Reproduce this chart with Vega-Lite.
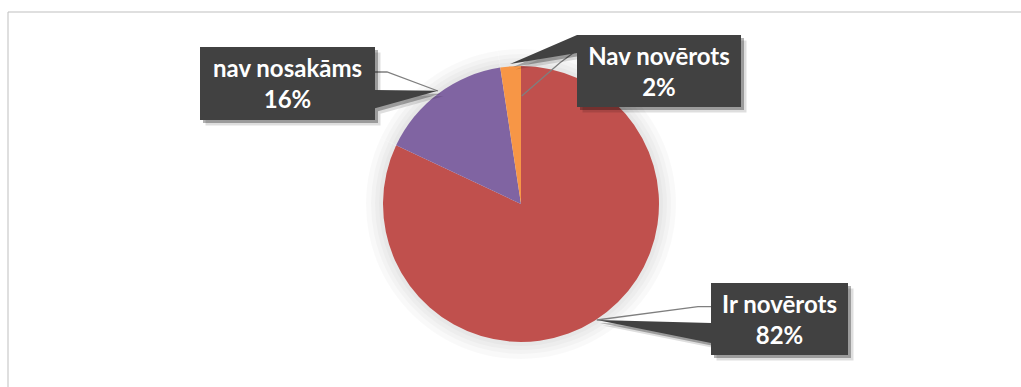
{
  "$schema": "https://vega.github.io/schema/vega-lite/v6.json",
  "width": 1027,
  "height": 385,
  "autosize": {"type": "none"},
  "padding": {"left": 7.5, "top": 11.5, "right": -13.5, "bottom": -9.5},
  "background": "#ffffff",
  "config": {"view": {"stroke": "#bfbfbf", "strokeWidth": 1, "fill": "#ffffff"}},
  "data": {
    "values": [
      {"category": "Ir novērots", "value": 82.0, "pct": "82%"},
      {"category": "nav nosakāms", "value": 15.6, "pct": "16%"},
      {"category": "Nav novērots", "value": 2.4, "pct": "2%"}
    ]
  },
  "layer": [
    {
      "mark": {"type": "arc", "radius": 155, "fill": "#000000", "opacity": 0.022},
      "encoding": {
        "theta": {"field": "value", "type": "quantitative"},
        "order": {"field": "value", "sort": "descending"}
      }
    },
    {
      "mark": {"type": "arc", "radius": 150, "fill": "#000000", "opacity": 0.022},
      "encoding": {
        "theta": {"field": "value", "type": "quantitative"},
        "order": {"field": "value", "sort": "descending"}
      }
    },
    {
      "mark": {"type": "arc", "radius": 146, "fill": "#000000", "opacity": 0.022},
      "encoding": {
        "theta": {"field": "value", "type": "quantitative"},
        "order": {"field": "value", "sort": "descending"}
      }
    },
    {
      "mark": {"type": "arc", "radius": 142, "fill": "#000000", "opacity": 0.025},
      "encoding": {
        "theta": {"field": "value", "type": "quantitative"},
        "order": {"field": "value", "sort": "descending"}
      }
    },
    {
      "mark": {"type": "arc", "radius": 138},
      "encoding": {
        "theta": {"field": "value", "type": "quantitative"},
        "order": {"field": "value", "sort": "descending"},
        "color": {
          "field": "category",
          "type": "nominal",
          "scale": {
            "domain": ["Ir novērots", "nav nosakāms", "Nav novērots"],
            "range": ["#C0504D", "#8064A2", "#F79646"]
          },
          "legend": null
        }
      }
    },
    {
      "mark": {"type": "point", "filled": false, "stroke": "#7f7f7f", "strokeWidth": 1.3, "size": 40000, "opacity": 1},
      "encoding": {
        "x": {"field": "value", "type": "quantitative", "scale": {"domain": [2.4, 15.6, 82], "range": [651.5, 280, 772], "zero": false, "nice": false}, "axis": null},
        "y": {"field": "value", "type": "quantitative", "scale": {"domain": [2.4, 15.6, 82], "range": [59.5, 72, 307.5], "zero": false, "nice": false}, "axis": null},
        "shape": {
          "field": "category",
          "type": "nominal",
          "scale": {
            "domain": ["Ir novērots", "nav nosakāms", "Nav novērots"],
            "range": [
              "M-1.828,0.01L-0.815,-0.123L-0.6,-0.123",
              "M0.8,-0.115L0.995,-0.115L1.505,0.075",
              "M-1.373,0.25L-0.99,-0.083L-0.75,-0.26"
            ]
          },
          "legend": null
        }
      }
    },
    {
      "mark": {"type": "point", "filled": true, "fill": "#000000", "strokeWidth": 0, "size": 40000, "opacity": 0.13},
      "encoding": {
        "x": {"field": "value", "type": "quantitative", "axis": null},
        "y": {"field": "value", "type": "quantitative", "axis": null},
        "shape": {
          "field": "category",
          "type": "nominal",
          "scale": {
            "domain": ["Ir novērots", "nav nosakāms", "Nav novērots"],
            "range": [
              "M-0.63,-0.305L0.74,-0.305L0.74,0.415L-0.63,0.415L-0.63,0.295L-1.77,0.065L-0.63,0.095Z",
              "M-0.82,-0.31L0.93,-0.31L0.93,0.12L1.56,0.127L0.93,0.303L0.93,0.42L-0.82,0.42Z",
              "M-0.765,-0.305L0.875,-0.305L0.875,0.415L-0.765,0.415L-0.765,-0.125L-1.435,-0.015Z"
            ]
          },
          "legend": null
        }
      }
    },
    {
      "mark": {"type": "point", "filled": true, "fill": "#000000", "strokeWidth": 0, "size": 40000, "opacity": 0.3},
      "encoding": {
        "x": {"field": "value", "type": "quantitative", "axis": null},
        "y": {"field": "value", "type": "quantitative", "axis": null},
        "shape": {
          "field": "category",
          "type": "nominal",
          "scale": {
            "domain": ["Ir novērots", "nav nosakāms", "Nav novērots"],
            "range": [
              "M-0.655,-0.33L0.715,-0.33L0.715,0.39L-0.655,0.39L-0.655,0.27L-1.795,0.04L-0.655,0.07Z",
              "M-0.845,-0.335L0.905,-0.335L0.905,0.095L1.535,0.102L0.905,0.278L0.905,0.395L-0.845,0.395Z",
              "M-0.79,-0.33L0.85,-0.33L0.85,0.39L-0.79,0.39L-0.79,-0.15L-1.46,-0.04Z"
            ]
          },
          "legend": null
        }
      }
    },
    {
      "mark": {"type": "point", "filled": true, "fill": "#414141", "strokeWidth": 0, "size": 40000, "opacity": 1},
      "encoding": {
        "x": {"field": "value", "type": "quantitative", "axis": null},
        "y": {"field": "value", "type": "quantitative", "axis": null},
        "shape": {
          "field": "category",
          "type": "nominal",
          "scale": {
            "domain": ["Ir novērots", "nav nosakāms", "Nav novērots"],
            "range": [
              "M-0.685,-0.36L0.685,-0.36L0.685,0.36L-0.685,0.36L-0.685,0.24L-1.825,0.01L-0.685,0.04Z",
              "M-0.875,-0.365L0.875,-0.365L0.875,0.065L1.505,0.072L0.875,0.248L0.875,0.365L-0.875,0.365Z",
              "M-0.82,-0.36L0.82,-0.36L0.82,0.36L-0.82,0.36L-0.82,-0.18L-1.49,-0.07Z"
            ]
          },
          "legend": null
        }
      }
    },
    {
      "mark": {"type": "text", "font": "Lato", "fontWeight": "bold", "fontSize": 24, "fill": "#ffffff", "align": "center", "baseline": "alphabetic", "dy": -6.5},
      "encoding": {
        "x": {"field": "value", "type": "quantitative", "axis": null},
        "y": {"field": "value", "type": "quantitative", "axis": null},
        "text": {"field": "category", "type": "nominal"}
      }
    },
    {
      "mark": {"type": "text", "font": "Lato", "fontWeight": "bold", "fontSize": 24, "fill": "#ffffff", "align": "center", "baseline": "alphabetic", "dy": 24.5},
      "encoding": {
        "x": {"field": "value", "type": "quantitative", "axis": null},
        "y": {"field": "value", "type": "quantitative", "axis": null},
        "text": {"field": "pct", "type": "nominal"}
      }
    }
  ],
  "resolve": {"scale": {"shape": "independent"}}
}
